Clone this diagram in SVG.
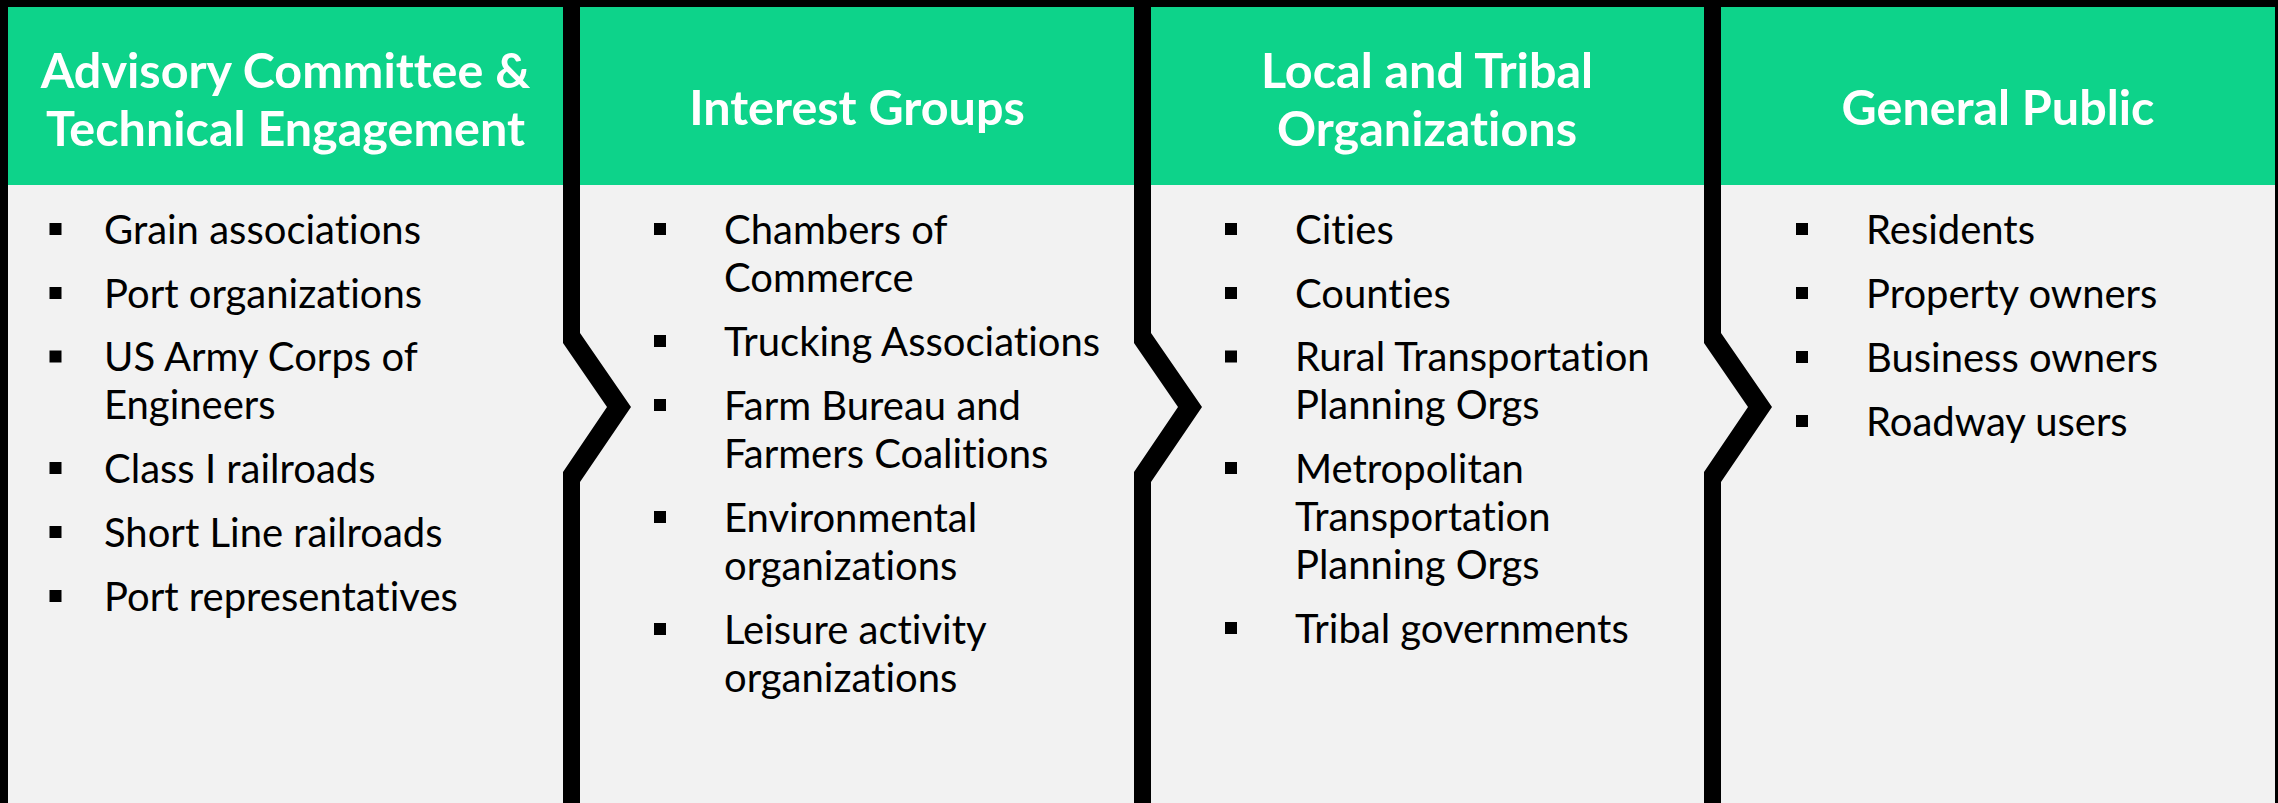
<svg xmlns="http://www.w3.org/2000/svg" width="2278" height="803" viewBox="0 0 2278 803">
<style>
.body{fill:#F2F2F2}
.head{fill:#0DD38A}
.ht{font-family:Lato,"Open Sans",sans-serif;font-weight:700;font-size:48.5px;fill:#FFFFFF;text-anchor:middle;font-variant-ligatures:none}
.bt{font-family:Lato,"Open Sans",sans-serif;font-size:40px;fill:#000000;font-variant-ligatures:none}
.bul{fill:#000000}
.sep{fill:#000000}
</style>
<defs>
<polygon id="chev" points="563,0 563,343 607,407 563,472 563,803 580,803 580,482 631,407 580,333 580,0"/>
</defs>
<rect x="0" y="0" width="2278" height="803" fill="#000000"/>
<g id="panel-advisory">
<rect class="body" x="8" y="185" width="564" height="618"/>
<rect class="head" x="8" y="7" width="564" height="178"/>
<text class="ht" x="285.5" y="88">Advisory Committee &amp;</text>
<text class="ht" x="285.5" y="146">Technical Engagement</text>
<rect class="bul" x="49.5" y="223" width="12" height="12"/>
<rect class="bul" x="49.5" y="287" width="12" height="12"/>
<rect class="bul" x="49.5" y="350.5" width="12" height="12"/>
<rect class="bul" x="49.5" y="462" width="12" height="12"/>
<rect class="bul" x="49.5" y="526" width="12" height="12"/>
<rect class="bul" x="49.5" y="590" width="12" height="12"/>
<text class="bt" x="104" y="243.5">Grain associations</text>
<text class="bt" x="104" y="307.5">Port organizations</text>
<text class="bt" x="104" y="371">US Army Corps of</text>
<text class="bt" x="104" y="419">Engineers</text>
<text class="bt" x="104" y="482.5">Class I railroads</text>
<text class="bt" x="104" y="546.5">Short Line railroads</text>
<text class="bt" x="104" y="610.5">Port representatives</text>
</g>
<g id="panel-interest">
<rect class="body" x="571" y="185" width="572" height="618"/>
<rect class="head" x="571" y="7" width="572" height="178"/>
<text class="ht" x="857" y="125">Interest Groups</text>
<rect class="bul" x="654" y="223" width="12" height="12"/>
<rect class="bul" x="654" y="335" width="12" height="12"/>
<rect class="bul" x="654" y="399" width="12" height="12"/>
<rect class="bul" x="654" y="511" width="12" height="12"/>
<rect class="bul" x="654" y="623" width="12" height="12"/>
<text class="bt" x="724" y="243.5">Chambers of</text>
<text class="bt" x="724" y="291.5">Commerce</text>
<text class="bt" x="724" y="355.5">Trucking Associations</text>
<text class="bt" x="724" y="419.5">Farm Bureau and</text>
<text class="bt" x="724" y="467.5">Farmers Coalitions</text>
<text class="bt" x="724" y="531.5">Environmental</text>
<text class="bt" x="724" y="579.5">organizations</text>
<text class="bt" x="724" y="643.5">Leisure activity</text>
<text class="bt" x="724" y="691.5">organizations</text>
</g>
<g id="panel-local">
<rect class="body" x="1142" y="185" width="571" height="618"/>
<rect class="head" x="1142" y="7" width="571" height="178"/>
<text class="ht" x="1427" y="88">Local and Tribal</text>
<text class="ht" x="1427" y="146">Organizations</text>
<rect class="bul" x="1225" y="223" width="12" height="12"/>
<rect class="bul" x="1225" y="287" width="12" height="12"/>
<rect class="bul" x="1225" y="350.5" width="12" height="12"/>
<rect class="bul" x="1225" y="462" width="12" height="12"/>
<rect class="bul" x="1225" y="622" width="12" height="12"/>
<text class="bt" x="1295" y="243.5">Cities</text>
<text class="bt" x="1295" y="307.5">Counties</text>
<text class="bt" x="1295" y="371">Rural Transportation</text>
<text class="bt" x="1295" y="419">Planning Orgs</text>
<text class="bt" x="1295" y="482.5">Metropolitan</text>
<text class="bt" x="1295" y="530.5">Transportation</text>
<text class="bt" x="1295" y="578.5">Planning Orgs</text>
<text class="bt" x="1295" y="642.5">Tribal governments</text>
</g>
<g id="panel-public">
<rect class="body" x="1712" y="185" width="563" height="618"/>
<rect class="head" x="1712" y="7" width="563" height="178"/>
<text class="ht" x="1998" y="125">General Public</text>
<rect class="bul" x="1796" y="223" width="12" height="12"/>
<rect class="bul" x="1796" y="287" width="12" height="12"/>
<rect class="bul" x="1796" y="351" width="12" height="12"/>
<rect class="bul" x="1796" y="415" width="12" height="12"/>
<text class="bt" x="1866" y="243.5">Residents</text>
<text class="bt" x="1866" y="307.5">Property owners</text>
<text class="bt" x="1866" y="371.5">Business owners</text>
<text class="bt" x="1866" y="435.5">Roadway users</text>
</g>
<g id="connectors">
<use href="#chev" class="sep"/>
<use href="#chev" class="sep" transform="translate(571,0)"/>
<use href="#chev" class="sep" transform="translate(1141,0)"/>
</g>
</svg>
